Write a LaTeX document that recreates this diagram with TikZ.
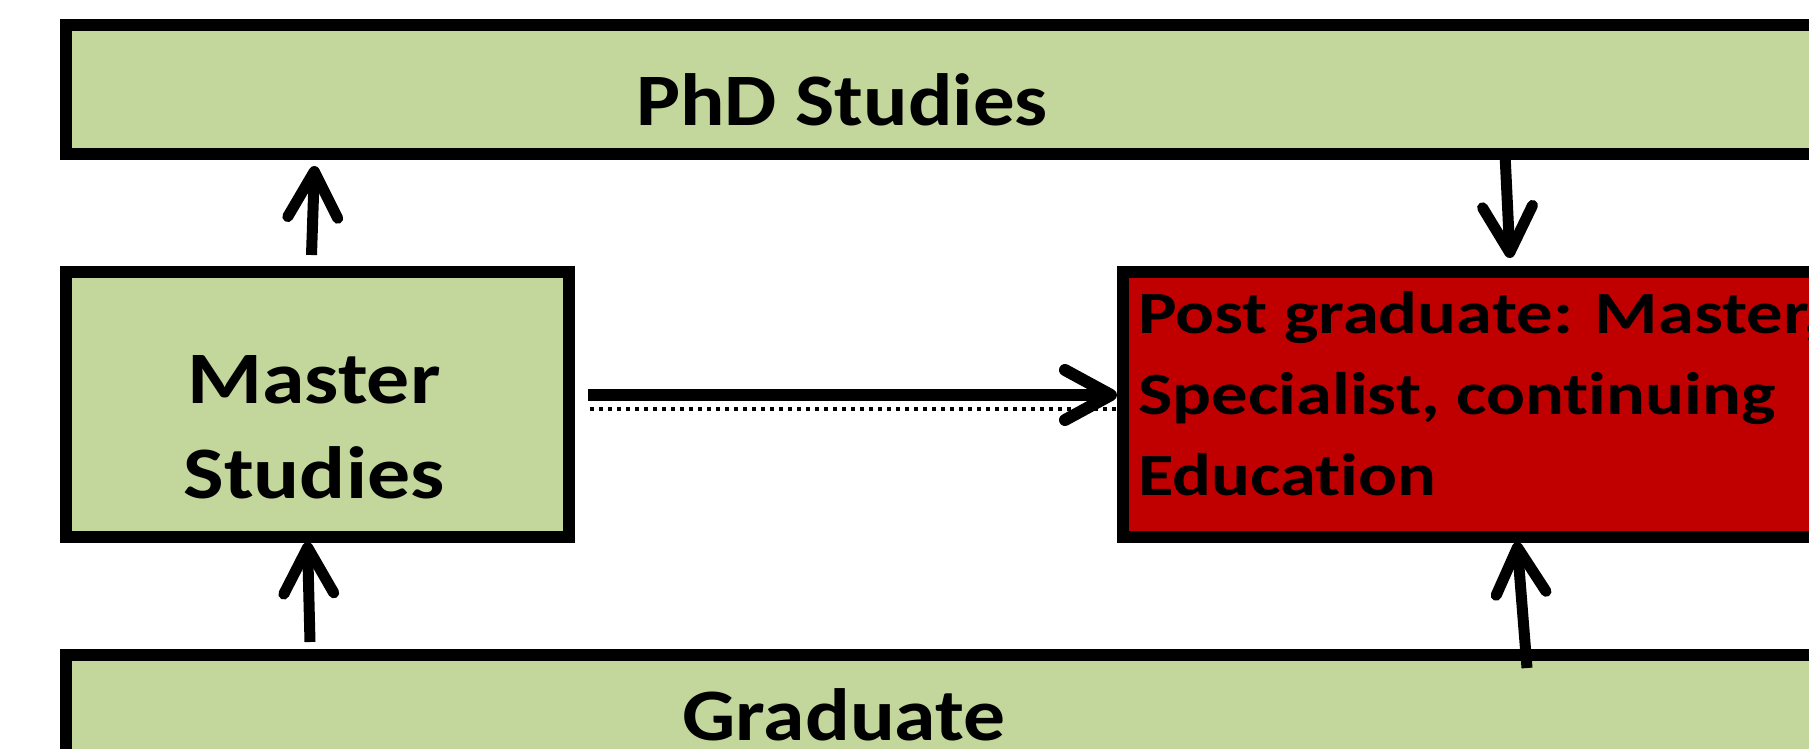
\documentclass[tikz,border=0pt]{standalone}
\usepackage{fontspec}
\setmainfont{Carlito}[Ligatures={NoCommon,NoRequired,NoContextual}]
\usetikzlibrary{arrows.meta,calc}
\definecolor{boxgreen}{HTML}{C3D69B}
\definecolor{boxred}{HTML}{C00000}
\begin{document}
\begin{tikzpicture}[x=1pt,y=-1pt,
  boxbase/.style={draw=black,line width=12pt,inner sep=0pt,outer sep=0pt,anchor=north west},
  greenbox/.style={boxbase,fill=boxgreen},
  redbox/.style={boxbase,fill=boxred},
  biglbl/.style={inner sep=0pt,font=\fontsize{74}{95}\selectfont\bfseries},
  redlbl/.style={inner sep=0pt,align=left,font=\fontsize{60}{81}\selectfont\bfseries},
  arr/.style={line width=11pt,-{Straight Barb[length=46pt,width=50pt,round]}},
  dots/.style={line width=3.5pt,dash pattern=on 3.5pt off 5.5pt}]
\useasboundingbox (0,0) rectangle (1809,749);
\clip (0,0) rectangle (1809,749);
\fill[white] (0,0) rectangle (1809,749);
% boxes
\node[greenbox,minimum width=1885pt,minimum height=129pt] (phd) at (66,25) {};
\node[greenbox,minimum width=503pt,minimum height=265pt] (master) at (66,272) {};
\node[redbox,minimum width=828pt,minimum height=265pt] (post) at (1123,272) {};
\node[greenbox,minimum width=1885pt,minimum height=300pt] (grad) at (66,655) {};
% labels
\node[biglbl,xscale=1.12,anchor=base] (phdtxt) at (842,125) {PhD Studies};
\node[biglbl,xscale=1.16,align=center,anchor=base] (mastertxt) at (314,498) {Master\\Studies};
\node[redlbl,xscale=1.21,anchor=base west] (posttxt) at (1138,495) {Post graduate: Master,\\Specialist, continuing\\Education};
\node[biglbl,xscale=1.13,anchor=base] (gradtxt) at (844,740) {Graduate};
% connectors
\draw[arr] ([shift={(-6,-17)}]master.north) -- ([shift={(-3,12)}]master.north |- phd.south);
\draw[arr] ([shift={(382,0)}]post.north west |- phd.south) -- ([shift={(387,-14)}]post.north west);
\draw[arr] ([shift={(-7.5,-13)}]master.south |- grad.north) -- ([shift={(-10,5)}]master.south);
\draw[arr] ([shift={(404,13)}]post.south west |- grad.north) -- ([shift={(394,5)}]post.south west);
\draw[arr,line width=12pt] ([shift={(19,-9.5)}]master.east) -- ([shift={(-6,-9.5)}]post.west);
\draw[dots] ([shift={(21,4.5)}]master.east) -- ([shift={(-6,4.5)}]post.west);
\end{tikzpicture}
\end{document}
